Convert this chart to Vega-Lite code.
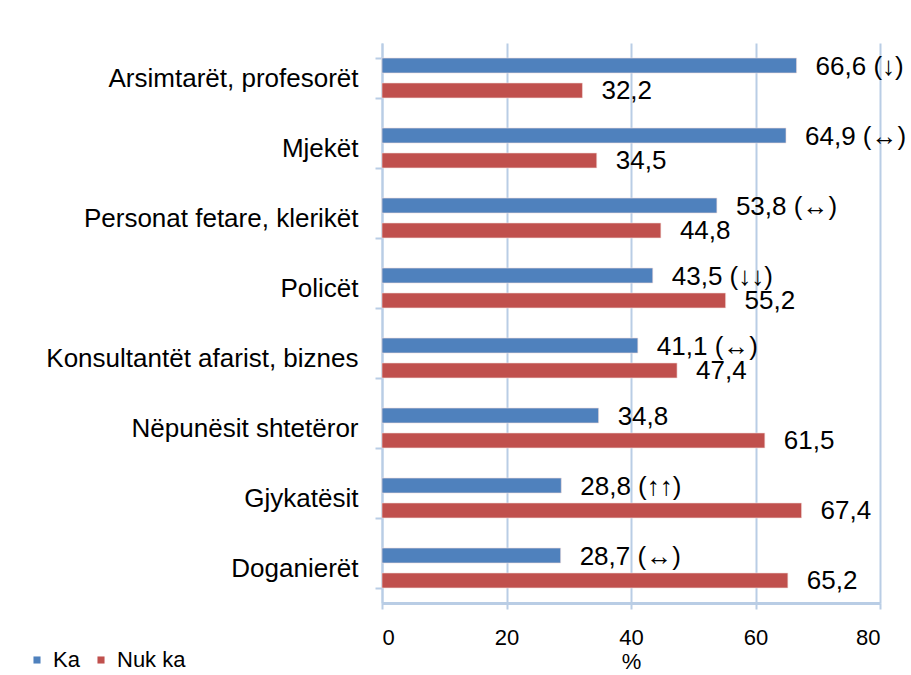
{
  "$schema": "https://vega.github.io/schema/vega-lite/v6.json",
  "width": 498,
  "height": 560,
  "autosize": {"type": "none"},
  "padding": {"left": 382, "top": 43, "right": 31, "bottom": 72},
  "background": "white",
  "config": {"view": {"stroke": null}, "font": "Liberation Sans"},
  "data": {
    "values": [
      {"cat": "Arsimtarët, profesorët", "series": "Ka", "value": 66.6, "label": "66,6 (↓)"},
      {"cat": "Arsimtarët, profesorët", "series": "Nuk ka", "value": 32.2, "label": "32,2"},
      {"cat": "Mjekët", "series": "Ka", "value": 64.9, "label": "64,9 (↔)"},
      {"cat": "Mjekët", "series": "Nuk ka", "value": 34.5, "label": "34,5"},
      {"cat": "Personat fetare, klerikët", "series": "Ka", "value": 53.8, "label": "53,8 (↔)"},
      {"cat": "Personat fetare, klerikët", "series": "Nuk ka", "value": 44.8, "label": "44,8"},
      {"cat": "Policët", "series": "Ka", "value": 43.5, "label": "43,5 (↓↓)"},
      {"cat": "Policët", "series": "Nuk ka", "value": 55.2, "label": "55,2"},
      {"cat": "Konsultantët afarist, biznes", "series": "Ka", "value": 41.1, "label": "41,1 (↔)"},
      {"cat": "Konsultantët afarist, biznes", "series": "Nuk ka", "value": 47.4, "label": "47,4"},
      {"cat": "Nëpunësit shtetëror", "series": "Ka", "value": 34.8, "label": "34,8"},
      {"cat": "Nëpunësit shtetëror", "series": "Nuk ka", "value": 61.5, "label": "61,5"},
      {"cat": "Gjykatësit", "series": "Ka", "value": 28.8, "label": "28,8 (↑↑)"},
      {"cat": "Gjykatësit", "series": "Nuk ka", "value": 67.4, "label": "67,4"},
      {"cat": "Doganierët", "series": "Ka", "value": 28.7, "label": "28,7 (↔)"},
      {"cat": "Doganierët", "series": "Nuk ka", "value": 65.2, "label": "65,2"}
    ]
  },
  "encoding": {
    "y": {
      "field": "cat",
      "type": "nominal",
      "sort": null,
      "scale": {"paddingInner": 0.43, "paddingOuter": 0.215},
      "axis": {
        "title": null,
        "labelFontSize": 26,
        "labelColor": "black",
        "labelPadding": 17,
        "labelLimit": 400,
        "tickBand": "extent",
        "tickSize": 7,
        "tickWidth": 2,
        "tickColor": "#B9CDE5",
        "domainColor": "#B9CDE5",
        "domainWidth": 2,
        "grid": false
      }
    },
    "yOffset": {
      "field": "series",
      "sort": ["Ka", "Nuk ka"],
      "scale": {"paddingInner": 0.4, "paddingOuter": 0}
    }
  },
  "layer": [
    {
      "mark": {"type": "bar", "stroke": "#F2DCDB", "strokeWidth": 1, "strokeOpacity": 0.6},
      "encoding": {
        "x": {
          "field": "value",
          "type": "quantitative",
          "scale": {"domain": [0, 80]},
          "axis": {
            "values": [0, 20, 40, 60, 80],
            "title": "%",
            "titleFontSize": 22,
            "titleFontWeight": "normal",
            "titleColor": "black",
            "titlePadding": 3,
            "labelFontSize": 22,
            "labelColor": "black",
            "labelPadding": 18,
            "tickSize": 6,
            "tickWidth": 2,
            "tickColor": "#B9CDE5",
            "domainColor": "#B9CDE5",
            "domainWidth": 3,
            "gridColor": "#B9CDE5",
            "gridWidth": 2,
            "gridOpacity": 1
          }
        },
        "color": {
          "field": "series",
          "type": "nominal",
          "scale": {"domain": ["Ka", "Nuk ka"], "range": ["#4F81BD", "#C0504D"]},
          "legend": {
            "title": null,
            "orient": "none",
            "direction": "horizontal",
            "legendX": -356,
            "legendY": 606,
            "symbolType": "square",
            "symbolSize": 50,
            "symbolStrokeWidth": 0,
            "labelFontSize": 22,
            "labelColor": "black",
            "labelOffset": 5,
            "columnPadding": 10
          }
        }
      }
    },
    {
      "mark": {"type": "text", "align": "left", "baseline": "middle", "dx": 19, "dy": 1, "fontSize": 26, "color": "black"},
      "encoding": {
        "x": {"field": "value", "type": "quantitative"},
        "text": {"field": "label"}
      }
    }
  ]
}
